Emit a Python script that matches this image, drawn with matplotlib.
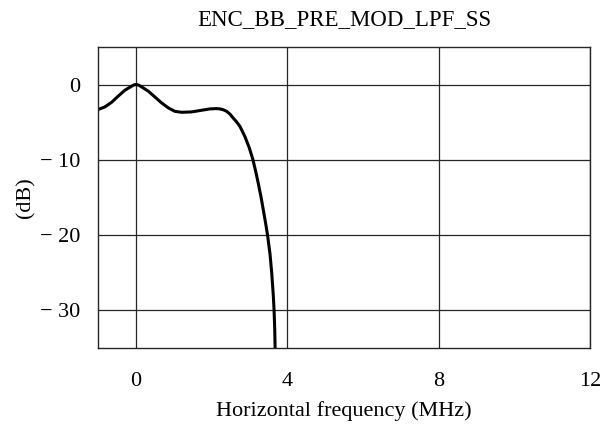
import matplotlib
matplotlib.use("Agg")
import matplotlib.pyplot as plt

# Frequency response of the pre-modulation low-pass filter
freq_mhz = [-1.0, -0.82, -0.64, -0.47, -0.29, -0.11, -0.05, 0.0, 0.07, 0.15,
            0.33, 0.5, 0.68, 0.86, 1.03, 1.21, 1.47, 1.74, 1.96, 2.12,
            2.22, 2.31, 2.40, 2.49, 2.57, 2.66, 2.75, 2.88, 3.0, 3.095,
            3.165, 3.23, 3.31, 3.38, 3.432, 3.48, 3.545, 3.59, 3.632, 3.653,
            3.67, 3.68]
gain_db = [-3.33, -2.98, -2.36, -1.56, -0.76, -0.22, -0.05, 0.0, -0.07, -0.31,
           -0.89, -1.64, -2.44, -3.11, -3.56, -3.69, -3.64, -3.42, -3.24, -3.2,
           -3.24, -3.35, -3.56, -3.95, -4.44, -4.95, -5.56, -6.89, -8.44, -10.0,
           -11.5, -13.0, -15.0, -17.0, -18.5, -20.0, -22.5, -25.0, -28.0, -30.0,
           -32.5, -35.0]

xticks = [0, 4, 8, 12]
yticks = [0, -10, -20, -30]
ytick_labels = ["0", "\u2212 10", "\u2212 20", "\u2212 30"]

plt.rcParams['font.family'] = ['Liberation Serif', 'DejaVu Serif']

fig = plt.figure(figsize=(6.02, 4.26), dpi=100)
ax = fig.add_axes([0.1628, 0.183, 0.8172, 0.707])

ax.plot(freq_mhz, gain_db, color="black", lw=2.2,
        solid_joinstyle="round", solid_capstyle="butt")

ax.set_xlim(-1, 12)
ax.set_ylim(-35, 5)
ax.set_xticks(xticks)
ax.set_xticklabels([str(t) for t in xticks])
ax.set_yticks(yticks)
ax.set_yticklabels(ytick_labels)
ax.tick_params(length=0, labelsize=16)
ax.tick_params(axis="x", pad=17)
ax.tick_params(axis="y", pad=12.5)
ax.grid(True, color="0.15", lw=0.9)
for s in ax.spines.values():
    s.set_linewidth(1.0)
    s.set_color("0.15")

ax.set_title("ENC_BB_PRE_MOD_LPF_SS", fontsize=16.5, pad=16)
ax.set_xlabel("Horizontal frequency (MHz)", fontsize=16)
ax.set_ylabel("(dB)", fontsize=16)
ax.xaxis.set_label_coords(0.5, -0.176)
ax.yaxis.set_label_coords(-0.128, 0.5)

fig.savefig("out.png", dpi=100)
